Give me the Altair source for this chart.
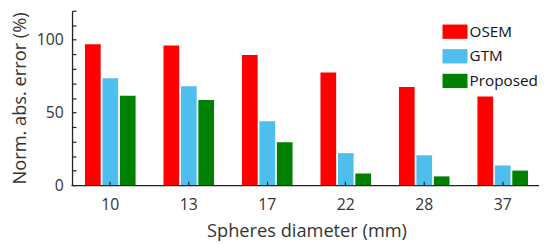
import altair as alt
import pandas as pd

diameters = ["10", "13", "17", "22", "28", "37"]
methods = ["OSEM", "GTM", "Proposed"]
colors = ["#FF0000", "#4DBEEE", "#008000"]
osem = [97, 96, 89.5, 77.5, 67.5, 61]
gtm = [73.5, 68, 44, 22, 20.5, 13.5]
proposed = [61.5, 58.5, 29.5, 8, 6, 10]

rows = []
for m, vals in zip(methods, [osem, gtm, proposed]):
    for d, v in zip(diameters, vals):
        rows.append({"Diameter": d, "Method": m, "Value": v})
df = pd.DataFrame(rows)

FONT = "Open Sans"
TXT = "#333333"
LINE = "#222222"

base = alt.Chart(df)

bars = base.mark_bar().encode(
    x=alt.X(
        "Diameter:N",
        sort=diameters,
        scale=alt.Scale(domain=diameters, range=[-1, 477], paddingInner=0, paddingOuter=0),
        axis=alt.Axis(
            title="Spheres diameter (mm)", ticks=False, tickSize=0, labelAngle=0,
            labelPadding=12, titlePadding=9, domainColor=LINE, domainWidth=1.3,
            labelFont=FONT, labelFontSize=16, labelColor=TXT,
            titleFont=FONT, titleFontSize=18.5, titleFontWeight="normal", titleColor=TXT,
            orient="bottom",
        ),
    ),
    xOffset=alt.XOffset(
        "Method:N", sort=methods,
        scale=alt.Scale(domain=methods, paddingInner=0.1, paddingOuter=0.8),
    ),
    y=alt.Y(
        "Value:Q",
        scale=alt.Scale(domain=[0, 120], nice=False),
        axis=alt.Axis(
            title="Norm. abs. error (%)", values=[0, 50, 100], ticks=False, tickSize=0,
            labelPadding=9, titlePadding=7, domainColor=LINE, domainWidth=1.3,
            labelFont=FONT, labelFontSize=16, labelColor=TXT, grid=False,
            titleFont=FONT, titleFontSize=18.5, titleFontWeight="normal", titleColor=TXT,
            orient="left",
        ),
    ),
    color=alt.Color(
        "Method:N",
        scale=alt.Scale(domain=methods, range=colors),
        legend=alt.Legend(
            title=None, orient="none", legendX=381, legendY=13.5,
            symbolType="M-1.75,-1H1.75V1H-1.75Z", symbolSize=210,
            symbolStrokeWidth=0, symbolOpacity=1,
            labelFont=FONT, labelFontSize=15.5, labelColor="#111111",
            labelOffset=7, rowPadding=8, padding=0,
        ),
    ),
)

tickmarks = base.mark_bar(opacity=0).encode(
    x=alt.X(
        "Diameter:N", sort=diameters,
        axis=alt.Axis(
            labels=False, domain=False, title=None, ticks=True, tickSize=4,
            offset=-4, orient="bottom", zindex=1, tickColor=LINE, tickWidth=1.2,
        ),
    ),
    y=alt.Y(
        "Value:Q",
        axis=alt.Axis(
            values=list(range(0, 121, 10)), labels=False, domain=False, title=None,
            ticks=True, tickSize=4, offset=-4, orient="left", zindex=1,
            tickColor=LINE, tickWidth=1.2, grid=False,
        ),
    ),
)

chart = (
    alt.layer(bars, tickmarks)
    .resolve_axis(x="independent", y="independent")
    .properties(
        width=474, height=177,
        autosize=alt.AutoSizeParams(type="none"),
        padding={"left": 65, "top": 1, "right": 0, "bottom": 58},
    )
    .configure_view(stroke=None)
)

chart.save("out.html", embed_options={"renderer": "svg", "actions": False})
